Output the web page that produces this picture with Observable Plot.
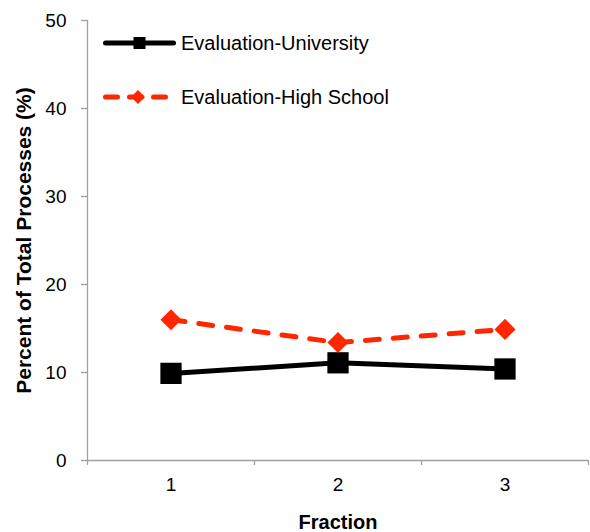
<!DOCTYPE html>
<html>
<head>
<meta charset="utf-8">
<script src="https://cdn.jsdelivr.net/npm/d3@7"></script>
<script src="https://cdn.jsdelivr.net/npm/@observablehq/plot@0.6"></script>
<style>
  html, body { margin: 0; padding: 0; background: white; }
  #wrap { position: relative; width: 590px; height: 532px; font-family: "Liberation Sans", Arial, sans-serif; }
  #legend { position: absolute; left: 0; top: 0; pointer-events: none; }
</style>
</head>
<body>
<div id="wrap"></div>
<script>
// ---- data ----
const fractions = [1, 2, 3];
const university = [9.9, 11.1, 10.4];
const highSchool = [16.0, 13.4, 14.9];
const seriesNames = ["Evaluation-University", "Evaluation-High School"];
const seriesColors = ["#000000", "#ff2600"];
const yTicks = [0, 10, 20, 30, 40, 50];
const xTickLabels = ["1", "2", "3"];
const xLabel = "Fraction";
const yLabel = "Percent of Total Processes (%)";

// ---- tables ----
const uniRows = fractions.map((f, i) => ({fraction: f, value: university[i], series: seriesNames[0]}));
const hsRows = fractions.map((f, i) => ({fraction: f, value: highSchool[i], series: seriesNames[1]}));
const boundaries = fractions.map(f => f - 0.5).concat([fractions[fractions.length - 1] + 0.5]);
const axisGray = "#a0a0a0";

const chart = Plot.plot({
  width: 590,
  height: 532,
  marginLeft: 87,
  marginRight: 2,
  marginTop: 20,
  marginBottom: 72,
  style: {fontFamily: "'Liberation Sans', Arial, sans-serif", background: "white", color: "black", overflow: "visible"},
  x: {domain: [boundaries[0], boundaries[boundaries.length - 1]]},
  y: {domain: [yTicks[0], yTicks[yTicks.length - 1]]},
  marks: [
    Plot.ruleY([yTicks[0]], {stroke: axisGray, strokeWidth: 1.3}),
    Plot.ruleX([boundaries[0]], {stroke: axisGray, strokeWidth: 1.3}),
    Plot.axisY(yTicks, {tickSize: 6, tickPadding: 15, stroke: axisGray, strokeWidth: 1.3, fill: "black", fontSize: 19, label: null}),
    Plot.axisX(boundaries, {tickSize: 5, tickFormat: () => "", stroke: axisGray, strokeWidth: 1.3, label: null}),
    Plot.axisX(fractions, {tickSize: 0, tickPadding: 17, fontSize: 19, fill: "black", label: null, tickFormat: (d) => xTickLabels[fractions.indexOf(d)]}),
    Plot.line(hsRows, {x: "fraction", y: "value", stroke: seriesColors[1], strokeWidth: 5, strokeDasharray: "14,14", strokeLinecap: "round"}),
    Plot.line(uniRows, {x: "fraction", y: "value", stroke: seriesColors[0], strokeWidth: 5}),
    Plot.dot(uniRows, {x: "fraction", y: "value", symbol: "square", r: 12, fill: seriesColors[0]}),
    Plot.dot(hsRows, {x: "fraction", y: "value", symbol: "diamond2", r: 9.5, fill: seriesColors[1]}),
    Plot.text([xLabel], {frameAnchor: "bottom", dy: 61.6, lineAnchor: "middle", textAnchor: "middle", fontSize: 20, fontWeight: "bold", fill: "black"}),
    Plot.text([yLabel], {frameAnchor: "left", dx: -63, rotate: -90, lineAnchor: "middle", textAnchor: "middle", fontSize: 21, fontWeight: "bold", fill: "black"})
  ]
});

const wrap = document.getElementById("wrap");
wrap.appendChild(chart);

// ---- legend overlay ----
const svg = d3.select(wrap).append("svg")
  .attr("id", "legend").attr("width", 590).attr("height", 130);
const rowsY = [43, 97];
seriesNames.forEach((name, i) => {
  const g = svg.append("g").attr("transform", `translate(0,${rowsY[i]})`);
  if (i === 0) {
    g.append("line").attr("x1", 105.5).attr("x2", 173.5).attr("y1", 0).attr("y2", 0)
      .attr("stroke", seriesColors[i]).attr("stroke-width", 5).attr("stroke-linecap", "round");
    g.append("rect").attr("x", 133.5).attr("y", -6).attr("width", 12).attr("height", 12).attr("fill", seriesColors[i]);
  } else {
    g.append("line").attr("x1", 105.5).attr("x2", 165.5).attr("y1", 0).attr("y2", 0)
      .attr("stroke", seriesColors[i]).attr("stroke-width", 5).attr("stroke-linecap", "round")
      .attr("stroke-dasharray", "12,12");
    g.append("path").attr("d", "M138,-7L145,0L138,7L131,0Z").attr("fill", seriesColors[i]);
  }
  g.append("text").attr("x", 181).attr("y", 0).attr("dy", "0.35em")
    .attr("font-size", 20).attr("fill", "black")
    .attr("font-family", "'Liberation Sans', Arial, sans-serif")
    .text(name);
});
</script>
</body>
</html>
